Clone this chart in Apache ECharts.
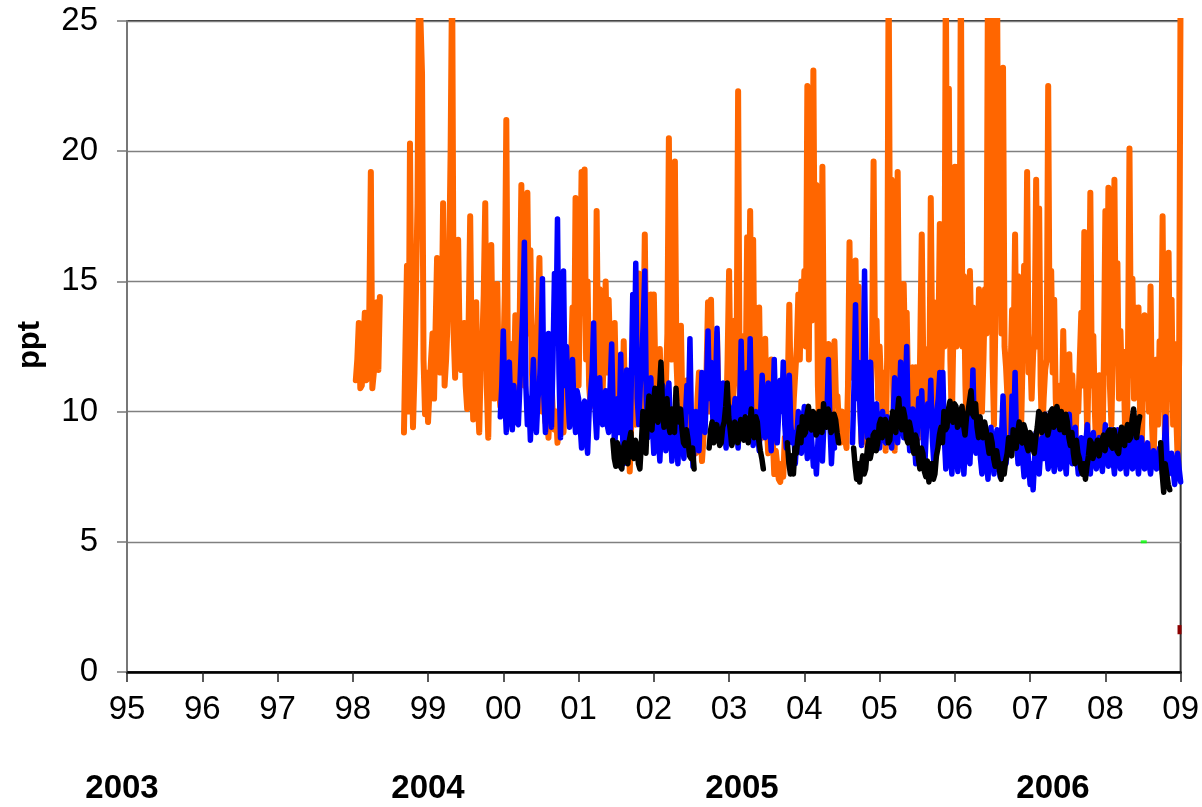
<!DOCTYPE html>
<html>
<head>
<meta charset="utf-8">
<script src="https://cdn.jsdelivr.net/npm/echarts@6/dist/echarts.min.js"></script>
<style>
html,body{margin:0;padding:0;background:#fff;}
#chart{width:1202px;height:807px;}
</style>
</head>
<body>
<div id="chart"></div>
<script>
// x tick labels (years 1995..2009, two-digit)
const xTickLabels = ['95','96','97','98','99','00','01','02','03','04','05','06','07','08','09'];
const yearLabels = ['2003','2004','2005','2006'];

// Series sampled at regular steps along the time axis (axis unit = 1 year from '95')
const sampleStep = 0.02;
const orangeStart = 3.04;
const blueStart = 4.96;
const blackStart = 6.455;

const orangeValues = [
11.2,12.0,13.4,10.9,11.0,12.5,13.8,11.2,11.3,14.0,19.2,10.9,11.5,12.8,14.2,11.6,14.4,null,
null,null,null,null,null,null,null,null,null,null,null,null,null,null,
9.2,12.5,15.6,10.0,20.3,13.0,9.4,11.5,
14.7,18.0,27,27,23,12.0,9.9,11.5,9.6,10.8,12.0,13.0,10.5,13.2,15.9,12.5,11.5,13.0,18.0,11.0,
12.0,13.5,15.7,20,27,13.0,11.3,14.0,16.6,12.5,11.6,12.8,13.4,11.0,10.1,13.5,17.5,12.0,9.7,11.5,
14.2,10.5,9.2,11.8,12.5,14.5,18.0,11.0,9.0,12.5,16.4,12.0,10.5,13.0,14.9,11.0,10.2,12.8,12.0,14.5,
21.2,12.0,10.5,12.2,12.6,11.0,13.7,11.5,10.7,14.0,18.7,12.0,11.0,14.5,18.4,13.0,16.2,11.5,10.4,12.0,
12.5,13.8,15.9,11.5,10.0,11.0,9.6,10.5,9.0,10.2,11.2,9.8,9.3,10.0,8.8,9.6,10.5,9.5,9.2,10.5,
12.3,9.8,10.0,12.0,14.0,11.5,18.2,12.5,11.0,14.5,19.2,16.0,19.3,12.0,15.0,11.0,10.2,11.5,12.5,10.8,
17.7,12.0,14.7,10.2,10.8,12.5,15.0,11.5,14.3,12.0,10.5,11.8,13.4,10.5,9.5,10.8,11.0,9.6,12.7,10.0,
9.0,10.5,7.7,9.5,12.0,10.0,9.5,12.5,15.3,11.0,10.0,12.0,16.8,11.5,9.8,12.5,14.5,11.0,14.5,11.5,
10.0,11.5,12.4,10.0,9.0,10.2,11.0,13.0,20.5,13.5,12.0,14.0,19.6,12.0,10.5,11.5,13.3,10.0,9.2,10.8,
11.2,9.5,8.6,10.0,9.5,8.8,8.4,10.5,11.5,9.5,8.1,9.0,10.0,11.5,14.2,10.0,14.3,10.5,9.0,11.0,
13.0,10.0,8.8,10.0,11.0,9.2,9.5,12.0,15.4,11.0,9.5,11.0,13.5,12.0,22.3,11.0,9.0,10.5,12.9,11.0,
16.7,12.0,17.7,11.5,16.6,10.5,9.5,11.5,14.0,10.0,9.0,10.5,12.8,9.5,8.4,10.0,12.0,9.0,7.6,8.5,
8.5,7.4,7.3,8.0,7.5,9.0,8.6,11.0,14.1,10.5,9.0,10.5,11.5,12.5,14.5,12.0,15.0,13.0,15.4,12.5,
22.5,12.0,21.7,13.5,23.1,14.0,18.7,11.0,9.0,12.5,19.4,11.5,10.4,11.0,12.6,10.0,9.5,11.0,12.7,10.5,
10.6,9.5,8.8,10.0,9.5,9.0,8.6,11.0,16.5,12.0,11.3,13.0,15.8,11.5,14.8,10.5,8.8,10.0,11.7,9.5,
8.6,9.8,10.5,12.5,19.6,12.0,13.5,10.5,12.5,11.0,10.0,11.5,8.5,12.0,27,14.0,18.9,11.0,8.5,12.5,
19.2,12.0,14.7,11.0,14.9,12.0,13.8,10.5,9.5,11.5,11.7,9.8,11.7,10.5,9.0,12.5,16.8,12.0,9.8,11.5,
12.4,10.5,18.2,12.0,14.2,11.0,9.5,12.5,17.2,11.5,14.0,12.5,27,13.0,22.4,12.0,9.5,13.0,19.4,12.5,
19.4,13.0,27,12.5,15.2,11.0,9.0,12.0,15.4,12.5,14.0,11.0,8.8,11.5,14.7,12.0,10.0,12.0,14.7,13.0,
27,14.0,27,12.0,9.5,14.0,27,15.0,22.5,13.0,23.2,12.5,11.7,10.5,9.0,11.5,13.9,12.0,16.8,11.5,
15.2,11.0,9.3,12.0,15.6,12.5,19.2,11.5,12.4,10.5,12.2,13.0,18.9,12.5,17.8,11.0,9.0,10.5,11.6,12.0,
22.5,12.0,15.4,11.5,14.3,10.5,9.2,10.8,11.0,9.5,13.1,10.0,8.6,11.0,12.2,9.8,11.4,10.0,8.5,10.5,
10.0,12.0,13.8,11.0,16.9,11.5,9.0,12.5,18.4,11.0,12.9,10.0,8.4,10.5,11.4,9.5,8.2,12.0,17.7,11.5,
18.6,11.0,9.5,12.5,18.9,12.0,15.7,10.5,13.1,11.0,12.3,9.5,8.0,12.0,20.1,11.5,15.1,10.5,14.0,11.0,
14.0,10.0,8.0,11.0,13.7,10.5,13.1,10.0,14.8,9.5,8.0,10.5,12.0,9.5,12.7,11.0,17.5,10.5,8.0,11.0,
16.1,10.5,14.3,9.5,12.6,10.0,8.2,12.0,27
];

const blueValues = [
9.8,11.0,13.1,10.5,9.2,10.8,11.9,10.0,9.3,11.0,10.0,9.6,9.5,11.0,12.5,14.0,16.5,11.0,9.5,10.5,
8.9,10.5,12.0,10.0,9.2,10.5,11.0,12.5,15.1,10.5,9.2,11.0,13.0,10.5,9.4,12.0,15.3,13.0,17.4,11.5,
9.0,12.0,15.4,11.0,12.5,10.5,9.4,11.0,12.0,10.0,9.2,10.8,10.5,9.5,8.6,10.2,10.4,9.2,8.4,10.0,
10.0,11.5,13.4,10.0,9.0,10.5,11.3,9.8,9.5,10.5,10.8,9.5,9.2,11.0,12.6,10.0,8.6,9.8,10.5,9.2,
12.2,9.5,8.0,10.0,11.6,9.0,8.3,11.0,14.5,11.5,15.7,10.5,9.5,11.0,12.0,13.5,15.4,10.5,9.0,10.5,
11.3,9.5,8.4,9.8,10.4,9.0,8.1,9.5,11.0,9.8,8.5,10.0,11.1,9.5,8.1,9.2,10.0,9.0,8.0,9.5,
9.5,8.8,8.2,9.8,11.0,10.0,12.8,9.5,7.9,9.0,10.0,9.2,8.5,10.0,11.5,9.8,9.2,11.0,13.1,10.5,
11.9,10.0,8.9,11.0,13.2,10.5,9.2,10.2,11.1,9.5,8.6,9.8,10.2,9.2,8.8,9.8,10.5,9.5,8.6,10.0,
12.7,10.0,9.0,10.5,11.5,10.0,12.8,9.8,8.7,9.8,10.0,9.2,8.5,10.0,11.4,9.8,9.0,10.2,11.1,9.5,
8.5,10.0,12.0,9.8,8.8,10.0,11.2,10.0,11.9,9.5,8.6,10.0,11.4,9.5,8.8,9.2,8.0,9.0,10.0,9.0,
8.4,9.5,10.2,9.0,8.2,9.2,9.6,8.8,7.9,8.5,7.6,8.8,9.9,9.0,8.1,9.5,10.3,9.8,12.0,9.5,
8.0,9.2,8.6,null,null,null,null,null,null,null,null,null,null,null,8.8,11.0,14.1,10.5,11.9,10.0,
8.7,11.0,15.4,10.5,9.0,10.5,11.9,9.8,8.8,9.6,10.3,9.2,8.6,9.5,10.0,9.0,8.8,9.8,9.8,9.0,
8.6,9.8,11.3,9.5,8.8,10.0,11.9,9.8,9.0,10.5,12.5,9.5,8.5,9.5,10.1,9.0,8.0,9.2,10.5,9.5,
10.8,9.0,7.9,9.2,10.3,9.5,11.2,9.0,8.0,9.2,10.0,10.5,11.5,9.5,11.5,9.0,7.8,8.8,9.6,8.5,
7.6,8.8,10.0,8.5,7.7,9.0,9.8,8.6,7.6,8.8,9.6,8.5,8.0,9.5,11.6,9.0,8.4,9.0,9.4,8.2,
7.6,8.5,9.2,8.2,7.4,8.6,9.4,8.4,7.6,8.8,9.3,8.3,7.5,9.0,10.6,8.8,8.0,8.6,9.0,8.4,
10.6,9.0,11.5,8.8,8.0,8.8,9.3,8.2,7.5,8.5,9.0,8.0,7.2,8.0,7.0,8.2,9.2,8.4,7.6,8.5,
9.0,8.2,9.9,8.5,7.8,8.6,9.5,8.3,7.7,8.8,9.8,8.4,7.8,8.6,9.3,8.2,7.6,8.8,9.9,8.5,
8.0,8.6,9.4,8.3,7.6,8.5,9.0,8.2,7.8,8.8,9.5,8.4,7.6,8.5,9.2,8.2,7.8,8.6,9.0,8.3,
7.7,8.6,9.5,8.4,7.9,8.6,9.3,8.2,7.6,8.5,9.3,8.3,7.8,8.6,9.2,8.2,7.6,8.4,9.0,8.2,
7.8,8.5,9.3,8.2,7.6,8.4,9.0,8.2,7.8,8.4,8.8,8.0,7.6,8.2,8.5,8.0,7.8,8.2,8.6,8.0,
7.6,8.5,9.8,8.2,7.6,8.0,8.4,7.8,7.2,7.8,8.4,7.8,7.3
];

const blackValues = [
8.9,8.2,7.9,8.8,8.6,7.9,7.8,8.6,8.8,8.1,8.0,8.9,9.2,8.3,8.2,8.9,8.7,8.0,7.8,8.8,
10.0,8.9,8.4,9.8,10.6,9.4,9.3,10.3,10.9,9.7,9.6,10.8,11.9,10.2,9.4,10.4,10.5,9.5,9.2,10.1,
9.8,9.2,10.9,9.9,9.6,10.1,9.3,8.8,8.7,9.3,8.9,8.3,8.2,8.6,7.8,null,null,null,null,null,
null,null,null,null,8.6,9.3,9.6,8.8,8.9,9.5,9.2,8.7,8.8,9.4,9.6,10.2,11.1,9.8,9.3,8.7,
8.9,9.6,9.5,8.8,9.0,9.7,9.4,8.9,9.8,9.2,8.8,9.5,10.1,9.3,9.0,9.8,9.6,8.9,8.5,8.2,
7.8,null,null,null,null,null,null,null,null,null,null,null,null,null,null,null,8.8,8.0,7.6,8.3,
7.6,8.6,8.4,9.0,9.4,8.8,9.8,9.1,9.2,9.9,10.2,9.4,9.3,10.0,9.9,9.1,9.2,10.0,9.8,9.2,
10.3,9.5,9.4,10.1,9.9,9.2,9.3,9.9,9.7,9.2,8.8,null,null,null,null,null,null,null,null,null,
8.6,7.9,7.4,8.0,7.3,7.9,8.3,7.6,7.8,8.5,8.9,8.2,8.5,9.1,9.2,8.5,8.8,9.5,9.7,9.0,
9.0,9.7,9.5,8.8,8.9,9.6,10.0,9.3,9.2,9.9,10.5,9.6,9.3,10.1,9.8,9.0,8.8,9.6,9.3,8.7,
8.4,9.1,8.9,8.2,7.8,8.6,8.4,7.7,7.5,8.1,7.3,7.8,8.0,7.4,7.6,8.3,8.6,9.1,9.4,8.8,
10.0,9.3,9.4,10.1,10.4,9.7,9.6,10.3,10.2,9.4,9.5,10.0,10.2,9.5,9.1,9.8,10.0,10.4,10.8,9.9,
9.8,10.3,9.4,9.0,9.8,9.2,9.0,9.6,9.3,8.8,8.4,9.1,8.8,8.2,7.9,8.5,8.1,7.7,7.4,8.0,
7.6,8.1,8.4,9.0,8.8,8.3,9.3,8.7,8.6,9.2,9.6,8.9,8.8,9.5,9.3,8.7,8.5,9.2,9.1,8.6,
8.4,9.0,9.4,10.0,9.9,9.2,9.3,9.9,9.8,9.1,9.4,10.0,10.1,9.4,9.5,10.2,9.9,9.3,10.0,9.5,
9.2,9.9,9.6,9.0,8.7,9.2,8.4,8.0,8.9,8.4,8.2,7.8,7.6,8.0,7.4,7.9,8.3,8.9,8.8,8.2,
8.2,8.7,8.9,8.3,8.3,8.9,9.1,8.5,8.5,9.2,9.3,8.7,8.6,9.3,9.0,8.5,8.4,9.0,9.4,8.8,
8.7,9.3,9.5,8.9,9.0,9.7,10.1,9.4,9.0,9.5,9.8,null,null,null,null,null,null,null,null,null,
null,null,null,null,8.8,7.6,6.9,8.0,7.6,7.2,7.0
];

// isolated marks near the end of the record
const greenPoints = [[13.51, 5.0]];
const redPoints = [[13.985, 1.45], [13.985, 1.8]];

function toPairs(start, values) {
  return values.map((v, i) => [start + i * sampleStep, v]);
}

const FONT = "'Liberation Sans', Arial, sans-serif";
const chart = echarts.init(document.getElementById('chart'), null, {renderer: 'canvas'});

chart.setOption({
  animation: false,
  backgroundColor: '#ffffff',
  grid: {
    left: 127, right: 21, top: 21, bottom: 135,
    show: true, borderColor: '#333', borderWidth: 2, backgroundColor: 'transparent'
  },
  xAxis: {
    type: 'value', min: 0, max: 14, interval: 1,
    axisLine: {show: true, onZero: false, lineStyle: {color: '#000', width: 2.5}},
    axisTick: {show: true, inside: false, length: 10, lineStyle: {color: '#222', width: 1.5}},
    axisLabel: {
      margin: 21, fontSize: 33, color: '#000', fontFamily: FONT,
      formatter: v => xTickLabels[Math.round(v)] || ''
    },
    splitLine: {show: false}
  },
  yAxis: {
    type: 'value', min: 0, max: 25, interval: 5,
    axisLine: {show: true, lineStyle: {color: '#777', width: 2}},
    axisTick: {show: true, inside: false, length: 10, lineStyle: {color: '#777', width: 1.5}},
    axisLabel: {margin: 29, fontSize: 33, color: '#000', fontFamily: FONT},
    splitLine: {show: true, lineStyle: {color: '#808080', width: 1.3}}
  },
  series: [
    {
      type: 'line', data: toPairs(orangeStart, orangeValues), showSymbol: false,
      connectNulls: false, clip: true, z: 2,
      lineStyle: {color: '#FF6600', width: 6, join: 'round', cap: 'round'}
    },
    {
      type: 'line', data: toPairs(blueStart, blueValues), showSymbol: false,
      connectNulls: false, clip: true, z: 3,
      lineStyle: {color: '#0000FF', width: 5.5, join: 'round', cap: 'round'}
    },
    {
      type: 'line', data: toPairs(blackStart, blackValues), showSymbol: false,
      connectNulls: false, clip: true, z: 4,
      lineStyle: {color: '#000000', width: 5.5, join: 'round', cap: 'round'}
    },
    {
      type: 'scatter', data: greenPoints, symbol: 'rect', symbolSize: [6, 3], z: 5,
      itemStyle: {color: '#00FF00'}
    },
    {
      type: 'line', data: redPoints, showSymbol: false, z: 5,
      lineStyle: {color: '#8B0000', width: 4}
    }
  ],
  graphic: [
    {type: 'text', x: 30, y: 345, rotation: Math.PI / 2,
     style: {text: 'ppt', fontSize: 31, fontWeight: 'bold', fill: '#000', fontFamily: FONT, align: 'center', verticalAlign: 'middle'}},
    {type: 'text', x: 122, y: 789, style: {text: yearLabels[0], fontSize: 33, fontWeight: 'bold', fill: '#000', fontFamily: FONT, align: 'center', verticalAlign: 'middle'}},
    {type: 'text', x: 428, y: 789, style: {text: yearLabels[1], fontSize: 33, fontWeight: 'bold', fill: '#000', fontFamily: FONT, align: 'center', verticalAlign: 'middle'}},
    {type: 'text', x: 742, y: 789, style: {text: yearLabels[2], fontSize: 33, fontWeight: 'bold', fill: '#000', fontFamily: FONT, align: 'center', verticalAlign: 'middle'}},
    {type: 'text', x: 1053, y: 789, style: {text: yearLabels[3], fontSize: 33, fontWeight: 'bold', fill: '#000', fontFamily: FONT, align: 'center', verticalAlign: 'middle'}}
  ]
});
</script>
</body>
</html>
